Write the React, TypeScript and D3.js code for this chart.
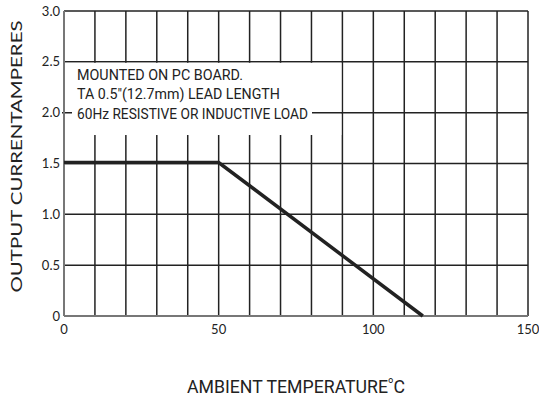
import React from "react";
import * as d3 from "d3";

// constants
const width = 539;
const height = 401;
const margin = { top: 11, right: 11, bottom: 85, left: 64 };
const innerWidth = width - margin.left - margin.right;
const innerHeight = height - margin.top - margin.bottom;

// data
const tempC = [0, 50, 116];
const currentA = [1.51, 1.51, 0];
const xTicks = [0, 50, 100, 150];
const yTicks = [0, 0.5, 1.0, 1.5, 2.0, 2.5, 3.0];
const yTickLabels = ["0", "0.5", "1.0", "1.5", "2.0", "2.5", "3.0"];
const noteLines = [
  "MOUNTED ON PC BOARD.",
  'TA 0.5"(12.7mm) LEAD LENGTH',
  "60Hz RESISTIVE OR INDUCTIVE LOAD",
];

const font = "Lato, 'Open Sans', sans-serif";
const narrow = "Roboto, 'Liberation Sans', sans-serif";

const App = () => {
  const x = d3.scaleLinear().domain([0, 150]).range([0, innerWidth]);
  const y = d3.scaleLinear().domain([0, 3]).range([innerHeight, 0]);
  const gridX = d3.range(0, 151, 10);
  const gridY = d3.range(0, 3.01, 0.5);

  const line = d3
    .line<number>()
    .x((d, i) => x(tempC[i]))
    .y((d) => y(d));

  // note box covers the grid between 2.5 and ~1.8
  const boxTop = y(2.5);
  const boxBottom = y(1.79);
  const boxRight = x(90);

  return (
    <svg width={width} height={height} style={{ position: "absolute", left: 0, top: 0 }}>
      <rect width={width} height={height} fill="#fff" />
      <g transform={`translate(${margin.left},${margin.top})`}>
        {/* grid */}
        {gridX.map((v) => (
          <line key={"vx" + v} x1={x(v)} x2={x(v)} y1={0} y2={innerHeight} stroke="#222" strokeWidth={1.5} />
        ))}
        {gridY.map((v) => (
          <line key={"hy" + v} x1={0} x2={innerWidth} y1={y(v)} y2={y(v)} stroke="#222" strokeWidth={1.5} />
        ))}

        {/* note box */}
        <rect x={0} y={boxTop + 1} width={boxRight - 1} height={boxBottom - boxTop} fill="#fff" />
        <line x1={-2} x2={boxRight} y1={y(2.0)} y2={y(2.0)} stroke="#222" strokeWidth={1.5} />
        <rect x={8} y={y(2.0) - 9} width={240} height={17} fill="#fff" />
        {noteLines.map((t, i) => (
          <text
            key={t}
            x={13}
            y={boxTop + 18 + i * 19.5}
            fontFamily={narrow}
            fontSize={14.5}
            fill="#222"
            textLength={[166, 203, 231][i]}
            lengthAdjust="spacingAndGlyphs"
          >
            {t}
          </text>
        ))}

        {/* axes */}
        <line x1={0} x2={0} y1={0} y2={innerHeight} stroke="#777" strokeWidth={2} />
        <line x1={0} x2={innerWidth} y1={innerHeight} y2={innerHeight} stroke="#777" strokeWidth={2} />
        {yTicks.map((v, i) => (
          <text key={"yl" + v} x={-4} y={y(v) + 4.5} textAnchor="end" fontFamily={font} fontSize={13} fill="#222">
            {yTickLabels[i]}
          </text>
        ))}
        {xTicks.map((v) => (
          <text key={"xl" + v} x={x(v)} y={innerHeight + 18} textAnchor="middle" fontFamily={font} fontSize={13} fill="#222">
            {v}
          </text>
        ))}

        {/* derating curve */}
        <path d={line(currentA) || ""} fill="none" stroke="#222" strokeWidth={3.5} />
      </g>

      {/* axis titles */}
      <text
        transform={`translate(22,${(20 + 293) / 2}) rotate(-90)`}
        textAnchor="middle"
        fontFamily={font}
        fontSize={16}
        fill="#222"
        textLength={272}
        lengthAdjust="spacingAndGlyphs"
      >
        OUTPUT CURRENTAMPERES
      </text>
      <text x={187} y={393} fontFamily={narrow} fontSize={17.5} fill="#222" textLength={218} lengthAdjust="spacingAndGlyphs">
        AMBIENT TEMPERATURE
        <tspan fontFamily={font} fontSize={13} dy={-5}>°</tspan>
        <tspan dy={5}>C</tspan>
      </text>
    </svg>
  );
};

export default App;
